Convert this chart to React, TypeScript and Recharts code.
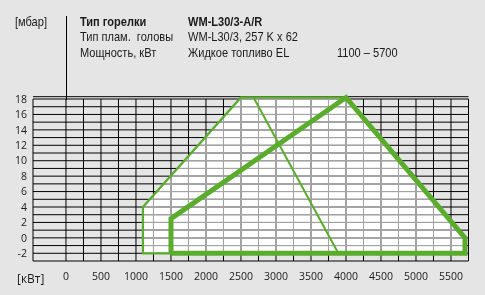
import { ComposedChart, Line, Area, XAxis, YAxis, CartesianGrid } from 'recharts';

const kwTicks = [0, 250, 500, 750, 1000, 1250, 1500, 1750, 2000, 2250, 2500, 2750, 3000, 3250, 3500, 3750, 4000, 4250, 4500, 4750, 5000, 5250, 5500, 5750];
const mbarTicks = [-3, -2, -1, 0, 1, 2, 3, 4, 5, 6, 7, 8, 9, 10, 11, 12, 13, 14, 15, 16, 17, 18];

// working field, filled white
const fieldTop = [
  { kw: 1100, mbar: 4 },
  { kw: 2500, mbar: 18.2 },
  { kw: 4000, mbar: 18.2 },
  { kw: 5700, mbar: 0 },
];
// thin outer contour (start-up range)
const outerContour = [
  { kw: 1500, mbar: -2 },
  { kw: 1100, mbar: -2 },
  { kw: 1100, mbar: 4 },
  { kw: 2500, mbar: 18.2 },
  { kw: 4000, mbar: 18.2 },
];
// thick main contour
const mainContour = [
  { kw: 1500, mbar: -2 },
  { kw: 1500, mbar: 2.5 },
  { kw: 4000, mbar: 18.2 },
  { kw: 5700, mbar: 0 },
  { kw: 5700, mbar: -2 },
  { kw: 1500, mbar: -2 },
];
const crossLine = [
  { kw: 2680, mbar: 18.2 },
  { kw: 3890, mbar: -2 },
];

const GREEN = '#5aac2c';
const TEXT = '#1a1a1a';
const headFont = '"Liberation Sans", Arial, sans-serif';

export default function App() {
  const row = (top: number, left: number, text: string, bold = false) => (
    <div
      style={{
        position: 'absolute',
        top,
        left,
        fontSize: 13,
        fontWeight: bold ? 700 : 400,
        whiteSpace: 'pre',
        lineHeight: '14px',
        transform: 'scaleX(0.85)',
        transformOrigin: 'left top',
      }}
    >
      {text}
    </div>
  );

  return (
    <div style={{ position: 'absolute', left: 0, top: 0, width: 485, height: 295, background: '#e4e5e4', fontFamily: headFont, color: TEXT }}>
      <style>{`.dodge{mix-blend-mode:color-dodge}.lighten{mix-blend-mode:lighten}`}</style>
      {row(15, 15, '[мбар]')}
      {row(15, 80, 'Тип горелки', true)}
      {row(15, 188, 'WM-L30/3-A/R', true)}
      {row(30, 80, 'Тип плам.  головы')}
      {row(30, 188, 'WM-L30/3, 257 K x 62')}
      {row(46, 80, 'Мощность, кВт')}
      {row(46, 188, 'Жидкое топливо EL')}
      {row(46, 337, '1100 – 5700')}
      <div style={{ position: 'absolute', left: 66, top: 16, width: 1, height: 84, background: '#000' }} />
      <div style={{ position: 'absolute', left: 17, top: 269, fontSize: 13, fontFamily: '"Open Sans", sans-serif', transform: 'scaleX(0.92)', transformOrigin: 'left top' }}>[кВт]</div>
      <div style={{ position: 'absolute', left: 0, top: 0 }}>
        <ComposedChart width={485} height={295} margin={{ top: 96.7, right: 16.5, left: 8, bottom: 0 }}>
          <CartesianGrid stroke="#000" strokeWidth={1} y={99} height={162} />
          <XAxis
            dataKey="kw"
            type="number"
            domain={[-471, 5750]}
            ticks={kwTicks}
            axisLine={false}
            tickLine={false}
            tickSize={0}
            tickMargin={12}
            height={34}
            interval={0}
            tickFormatter={(v: number) => (v % 500 === 0 ? String(v) : '')}
            tick={{ fill: TEXT, fontSize: 10.5, fontFamily: '"Open Sans", sans-serif' }}
          />
          <YAxis
            type="number"
            domain={[-3, 18.3]}
            ticks={mbarTicks}
            axisLine={false}
            tickLine={false}
            tickSize={0}
            tickMargin={6}
            width={25}
            interval={0}
            tickFormatter={(v: number) => (v % 2 === 0 ? String(v) : '')}
            tick={{ fill: TEXT, fontSize: 10.5, fontFamily: '"Open Sans", sans-serif' }}
          />
          <Area data={fieldTop} dataKey="mbar" type="linear" baseValue={-2} fill="#1a1a1a" fillOpacity={1} stroke="none" className="dodge" isAnimationActive={false} />
          <Area data={fieldTop} dataKey="mbar" type="linear" baseValue={-2} fill="#a3a3a3" fillOpacity={1} stroke="none" className="lighten" isAnimationActive={false} />
          <Line data={outerContour} dataKey="mbar" type="linear" stroke={GREEN} strokeWidth={2.2} dot={false} isAnimationActive={false} />
          <Line data={crossLine} dataKey="mbar" type="linear" stroke={GREEN} strokeWidth={2} dot={false} isAnimationActive={false} />
          <Line data={mainContour} dataKey="mbar" type="linear" stroke={GREEN} strokeWidth={5} dot={false} isAnimationActive={false} />
        </ComposedChart>
      </div>
    </div>
  );
}
